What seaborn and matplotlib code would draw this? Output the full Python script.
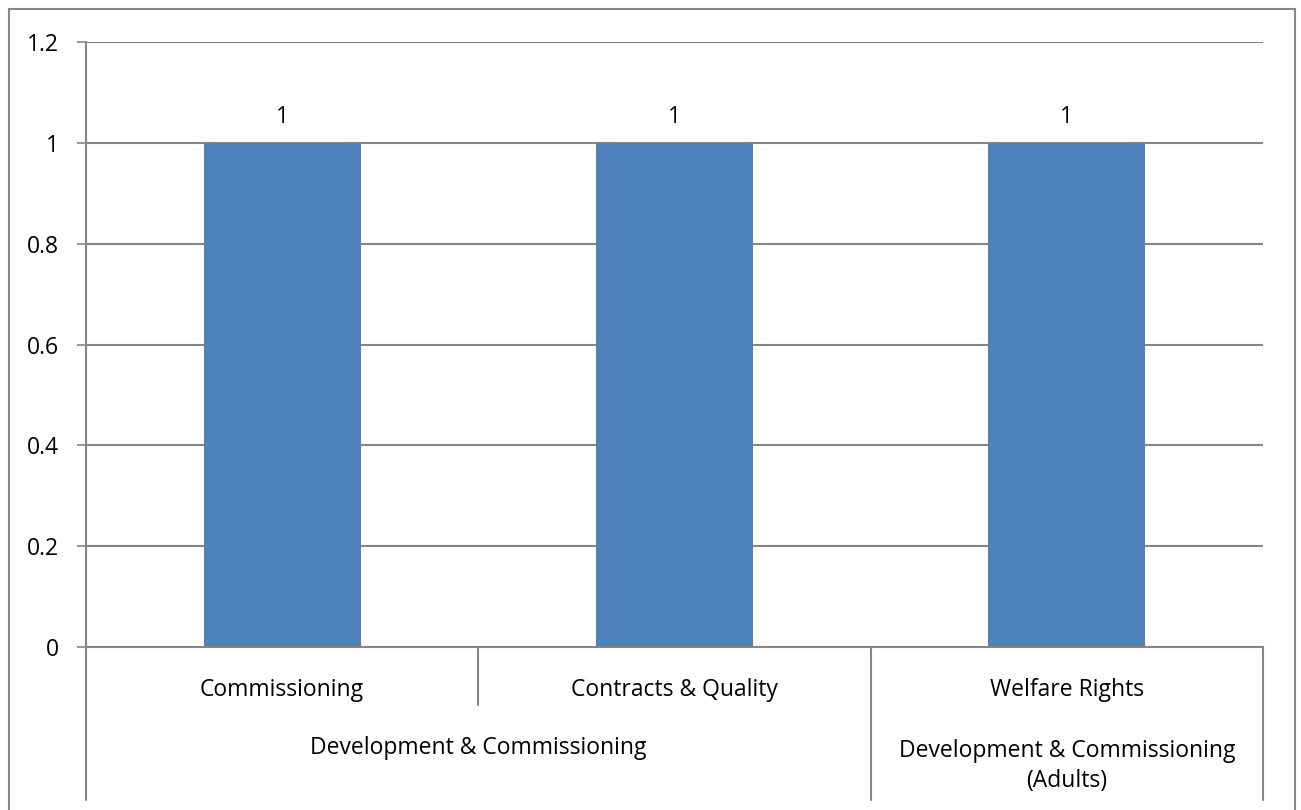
import matplotlib
matplotlib.use("Agg")
import matplotlib.pyplot as plt
import matplotlib.transforms as mtransforms
from matplotlib.patches import Rectangle
import seaborn as sns
import pandas as pd

# data
categories = ["Commissioning", "Contracts & Quality", "Welfare Rights"]
groups = ["Development & Commissioning", "Development & Commissioning",
          "Development & Commissioning\n(Adults)"]
values = [1, 1, 1]
y_ticks = [0, 0.2, 0.4, 0.6, 0.8, 1, 1.2]
y_tick_labels = ["0", "0.2", "0.4", "0.6", "0.8", "1", "1.2"]

BAR_COLOR = "#4F81BD"
GRID_COLOR = "#868686"
FS = 16.5
W, H = 1301, 810

sns.set_theme(style="white")
plt.rcParams["font.family"] = ["Open Sans", "DejaVu Sans"]
plt.rcParams["text.color"] = "black"

df = pd.DataFrame({"category": categories, "value": values, "group": groups})

fig = plt.figure(figsize=(13.01, 8.10), dpi=100)
ax = fig.add_axes([86 / W, 1 - 647 / H, (1263 - 86) / W, (647 - 42) / H])

sns.barplot(data=df, x="category", y="value", color=BAR_COLOR, width=0.4,
            saturation=1, linewidth=0, ax=ax)

ax.set_ylim(0, 1.2)
ax.set_xlim(-0.5, len(categories) - 0.5)
ax.set_yticks(y_ticks)
ax.set_yticklabels(y_tick_labels, fontsize=FS)
ax.set_xlabel("")
ax.set_ylabel("")
ax.set_xticks([])
ax.yaxis.grid(True, color=GRID_COLOR, linewidth=1.5)
ax.set_axisbelow(True)
ax.tick_params(axis="y", left=True, length=6.5, width=1.2, color=GRID_COLOR,
               pad=13, labelcolor="black")

for side in ["top", "right"]:
    ax.spines[side].set_visible(False)
for side in ["left", "bottom"]:
    ax.spines[side].set_color(GRID_COLOR)
    ax.spines[side].set_linewidth(1.5)

ax.bar_label(ax.containers[0], labels=[str(v) for v in values],
             fontsize=FS, padding=10, color="black")

# multi-level category axis
trans = mtransforms.blended_transform_factory(ax.transData, ax.transAxes)
px = 1 / (647 - 42)  # one pixel in axes units (vertical)
deep = -(800 - 647) * px
short = -(705 - 647) * px
for i in range(len(categories) + 1):
    x = i - 0.5
    same = 0 < i < len(categories) and groups[i - 1] == groups[i]
    ax.plot([x, x], [0, short if same else deep], transform=trans,
            color=GRID_COLOR, linewidth=1.5, clip_on=False)

for i, cat in enumerate(categories):
    ax.text(i, -(690 - 647) * px, cat, transform=trans, ha="center",
            va="center", fontsize=FS, color="black")

# group labels
seen = []
for g in groups:
    if g not in seen:
        seen.append(g)
for g in seen:
    idx = [i for i, v in enumerate(groups) if v == g]
    center = (idx[0] + idx[-1]) / 2
    n_lines = g.count("\n") + 1
    y_px = 748 if n_lines == 1 else 766
    ax.text(center, -(y_px - 647) * px, g, transform=trans, ha="center",
            va="center", fontsize=FS, linespacing=1.35, color="black")

# outer chart border
fig.patches.append(Rectangle((9 / W, -0.02), (1295 - 9) / W, 1 - 9 / H + 0.02,
                             transform=fig.transFigure, fill=False,
                             edgecolor=GRID_COLOR, linewidth=1.5))

fig.savefig("out.png", dpi=100)
